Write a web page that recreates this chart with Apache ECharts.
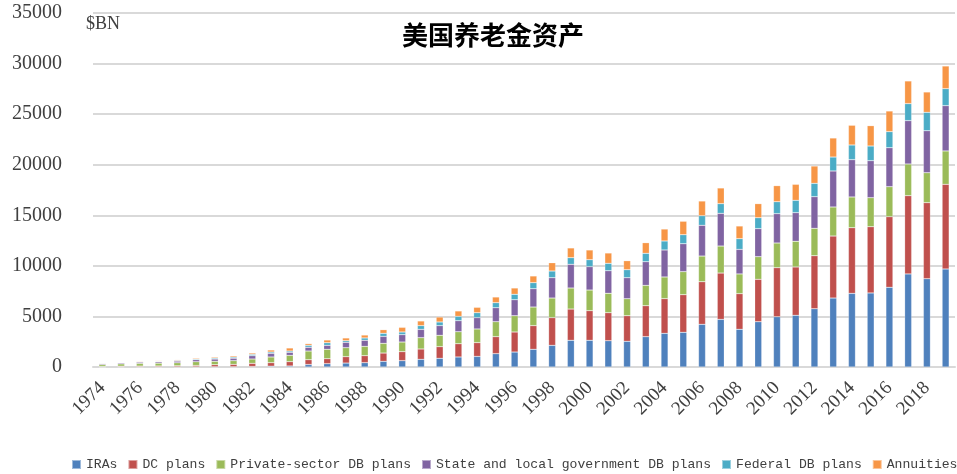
<!DOCTYPE html>
<html>
<head>
<meta charset="utf-8">
<script src="https://cdn.jsdelivr.net/npm/echarts@6/dist/echarts.min.js"></script>
<style>
  html, body { margin: 0; padding: 0; background: #fff; }
  #chart { width: 957px; height: 474px; }
</style>
</head>
<body>
<div id="chart"></div>
<script>
// years 1974..2019
const years = ['1974','1975','1976','1977','1978','1979','1980','1981','1982','1983',
  '1984','1985','1986','1987','1988','1989','1990','1991','1992','1993',
  '1994','1995','1996','1997','1998','1999','2000','2001','2002','2003',
  '2004','2005','2006','2007','2008','2009','2010','2011','2012','2013',
  '2014','2015','2016','2017','2018','2019']

// $BN
const iras = [0, 10, 10, 10, 20, 20, 25, 30, 50, 80,
  100, 250, 330, 390, 430, 560, 630, 760, 860, 990,
  1050, 1320, 1480, 1750, 2140, 2640, 2640, 2600, 2540, 3000,
  3330, 3430, 4220, 4710, 3730, 4480, 4970, 5110, 5760, 6820,
  7280, 7320, 7880, 9200, 8730, 9690]
const dcPlans = [50, 70, 80, 90, 100, 130, 200, 230, 310, 350,
  430, 470, 490, 630, 690, 820, 890, 1020, 1150, 1310,
  1360, 1680, 1980, 2340, 2740, 3090, 2930, 2770, 2530, 3060,
  3430, 3720, 4210, 4580, 3520, 4190, 4850, 4780, 5240, 6130,
  6490, 6550, 6980, 7740, 7520, 8370]
const privateDB = [190, 230, 270, 280, 300, 370, 340, 370, 430, 560,
  620, 860, 930, 890, 920, 960, 950, 1120, 1120, 1190,
  1350, 1480, 1610, 1840, 1940, 2080, 2040, 1920, 1680, 2010,
  2140, 2280, 2540, 2670, 1950, 2240, 2440, 2540, 2710, 2870,
  3040, 2870, 2970, 3130, 2960, 3300]
const stateLocalDB = [90, 100, 120, 130, 160, 200, 220, 240, 330, 360,
  300, 370, 390, 530, 600, 690, 730, 820, 960, 1090,
  1120, 1380, 1580, 1810, 2010, 2340, 2310, 2230, 2080, 2340,
  2670, 2760, 3040, 3230, 2430, 2770, 2900, 2830, 3130, 3560,
  3690, 3660, 3850, 4290, 4150, 4480]
const federalDB = [30, 40, 50, 55, 70, 80, 100, 110, 130, 130,
  130, 190, 260, 160, 230, 300, 260, 370, 360, 430,
  490, 500, 540, 600, 660, 660, 690, 730, 790, 830,
  890, 890, 950, 960, 1060, 1080, 1180, 1220, 1320, 1380,
  1450, 1450, 1590, 1680, 1820, 1680]
const annuities = [40, 40, 60, 60, 70, 90, 100, 120, 130, 200,
  300, 170, 270, 270, 290, 360, 460, 460, 490, 530,
  530, 560, 620, 660, 820, 960, 960, 1020, 890, 1050,
  1180, 1330, 1450, 1550, 1250, 1390, 1590, 1580, 1710, 1880,
  1950, 2010, 2040, 2240, 2010, 2240]

const seriesNames = ['IRAs', 'DC plans', 'Private-sector DB plans',
  'State and local government DB plans', 'Federal DB plans', 'Annuities']
const seriesData = [iras, dcPlans, privateDB, stateLocalDB, federalDB, annuities]
const colors = ['#4f81bd', '#c0504d', '#9bbb59', '#8064a2', '#4bacc6', '#f79646']

const chart = echarts.init(document.getElementById('chart'), null, { renderer: 'canvas' })

const option = {
  animation: false,
  backgroundColor: '#fff',
  color: colors,
  title: [
    {
      text: '美国养老金资产',
      left: 402,
      top: 22,
      padding: 0,
      textStyle: { fontFamily: 'Noto Sans CJK SC', fontSize: 26, fontWeight: 'bold', color: '#000' }
    },
    {
      text: '$BN',
      left: 86,
      top: 15,
      padding: 0,
      textStyle: { fontFamily: 'Liberation Serif', fontSize: 18, fontWeight: 'normal', color: '#404040' }
    }
  ],
  legend: {
    left: 71,
    bottom: 3,
    padding: 0,
    width: 900,
    itemWidth: 9,
    itemHeight: 9,
    itemGap: 10,
    icon: 'rect',
    textStyle: { fontFamily: 'Liberation Mono', fontSize: 13.1, color: '#404040' },
    data: seriesNames
  },
  grid: { left: 93, right: 2, top: 13, bottom: 107 },
  xAxis: {
    type: 'category',
    data: years,
    axisTick: { show: false },
    axisLine: { lineStyle: { color: '#d9d9d9', width: 2 } },
    axisLabel: {
      interval: 1,
      rotate: 45,
      margin: 18,
      fontFamily: 'Liberation Serif',
      fontSize: 19,
      color: '#404040'
    }
  },
  yAxis: {
    type: 'value',
    min: 0,
    max: 35000,
    interval: 5000,
    axisLine: { show: false },
    axisTick: { show: false },
    axisLabel: {
      margin: 31,
      fontFamily: 'Liberation Serif',
      fontSize: 20,
      color: '#404040',
      formatter: v => String(v)
    },
    splitLine: { lineStyle: { color: '#d9d9d9', width: 2 } }
  },
  series: seriesNames.map((name, i) => ({
    name: name,
    type: 'bar',
    stack: 'total',
    barWidth: 7,
    itemStyle: { borderColor: 'rgba(255,255,255,0.45)', borderWidth: 0.5 },
    data: seriesData[i]
  }))
}

chart.setOption(option)
</script>
</body>
</html>
